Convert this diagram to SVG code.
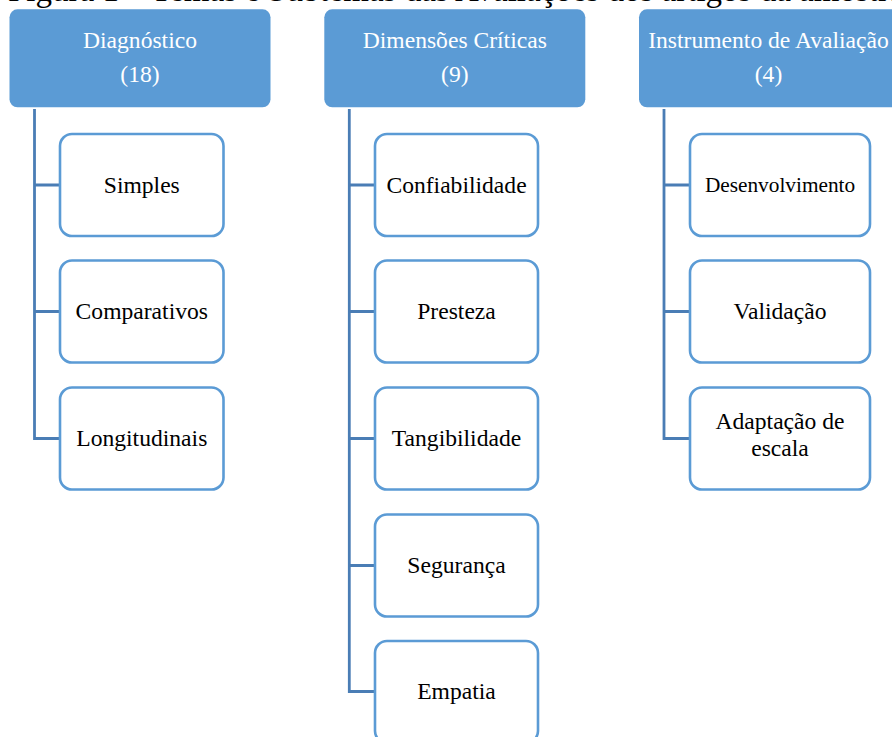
<svg xmlns="http://www.w3.org/2000/svg" width="892" height="737" viewBox="0 0 892 737">
<style>
.hdr{fill:#5b9bd5;}
.hdrt{font-family:"Liberation Serif","Times New Roman",serif;font-size:23.6px;fill:#ffffff;text-anchor:middle;}
.child{fill:#ffffff;stroke:#5b9bd5;stroke-width:2.6;}
.ct{font-family:"Liberation Serif","Times New Roman",serif;font-size:23.6px;fill:#000000;text-anchor:middle;}
.conn{fill:none;stroke:#4a7db5;stroke-width:2.8;}
.cap{font-family:"Liberation Serif","Times New Roman",serif;font-size:33px;fill:#000000;}
</style>
<rect width="892" height="737" fill="#ffffff"/>
<text class="cap" x="8" y="0.5">Figura 1 – Temas e Subtemas das Avaliações dos artigos da amostra</text>

<g id="connectors">
<path class="conn" d="M34.5,109 V438.5 H60 M34.5,185 H60 M34.5,311.5 H60"/>
<path class="conn" d="M349.3,109 V691.5 H375 M349.3,185 H375 M349.3,311.5 H375 M349.3,438.5 H375 M349.3,565.5 H375"/>
<path class="conn" d="M664,109 V438.5 H690 M664,185 H690 M664,311.5 H690"/>
</g>

<g id="h1">
<rect class="hdr" x="9.5" y="9.3" width="261" height="98" rx="8"/>
<text class="hdrt" x="140" y="48.3">Diagnóstico</text>
<text class="hdrt" x="140" y="82">(18)</text>
</g>
<g id="h2">
<rect class="hdr" x="324.3" y="9.3" width="261" height="98" rx="8"/>
<text class="hdrt" x="454.8" y="48.3">Dimensões Críticas</text>
<text class="hdrt" x="454.8" y="82">(9)</text>
</g>
<g id="h3">
<rect class="hdr" x="639" y="9.3" width="261" height="98" rx="8"/>
<text class="hdrt" x="768.5" y="48.3">Instrumento de Avaliação</text>
<text class="hdrt" x="768.5" y="82">(4)</text>
</g>

<g id="c1a"><rect class="child" x="60" y="134" width="163.5" height="102" rx="12"/><text class="ct" x="141.8" y="192.5">Simples</text></g>
<g id="c1b"><rect class="child" x="60" y="260.5" width="163.5" height="102" rx="12"/><text class="ct" x="141.8" y="319">Comparativos</text></g>
<g id="c1c"><rect class="child" x="60" y="387.5" width="163.5" height="102" rx="12"/><text class="ct" x="141.8" y="446">Longitudinais</text></g>

<g id="c2a"><rect class="child" x="375" y="134" width="163" height="102" rx="12"/><text class="ct" x="456.5" y="192.5">Confiabilidade</text></g>
<g id="c2b"><rect class="child" x="375" y="260.5" width="163" height="102" rx="12"/><text class="ct" x="456.5" y="319">Presteza</text></g>
<g id="c2c"><rect class="child" x="375" y="387.5" width="163" height="102" rx="12"/><text class="ct" x="456.5" y="446">Tangibilidade</text></g>
<g id="c2d"><rect class="child" x="375" y="514.5" width="163" height="102" rx="12"/><text class="ct" x="456.5" y="573">Segurança</text></g>
<g id="c2e"><rect class="child" x="375" y="641" width="163" height="102" rx="12"/><text class="ct" x="456.5" y="699">Empatia</text></g>

<g id="c3a"><rect class="child" x="690" y="134" width="180" height="102" rx="12"/><text class="ct" x="780" y="192" style="font-size:21.3px">Desenvolvimento</text></g>
<g id="c3b"><rect class="child" x="690" y="260.5" width="180" height="102" rx="12"/><text class="ct" x="780" y="319">Validação</text></g>
<g id="c3c"><rect class="child" x="690" y="387.5" width="180" height="102" rx="12"/><text class="ct" x="780" y="429">Adaptação de</text><text class="ct" x="780" y="456">escala</text></g>
</svg>
